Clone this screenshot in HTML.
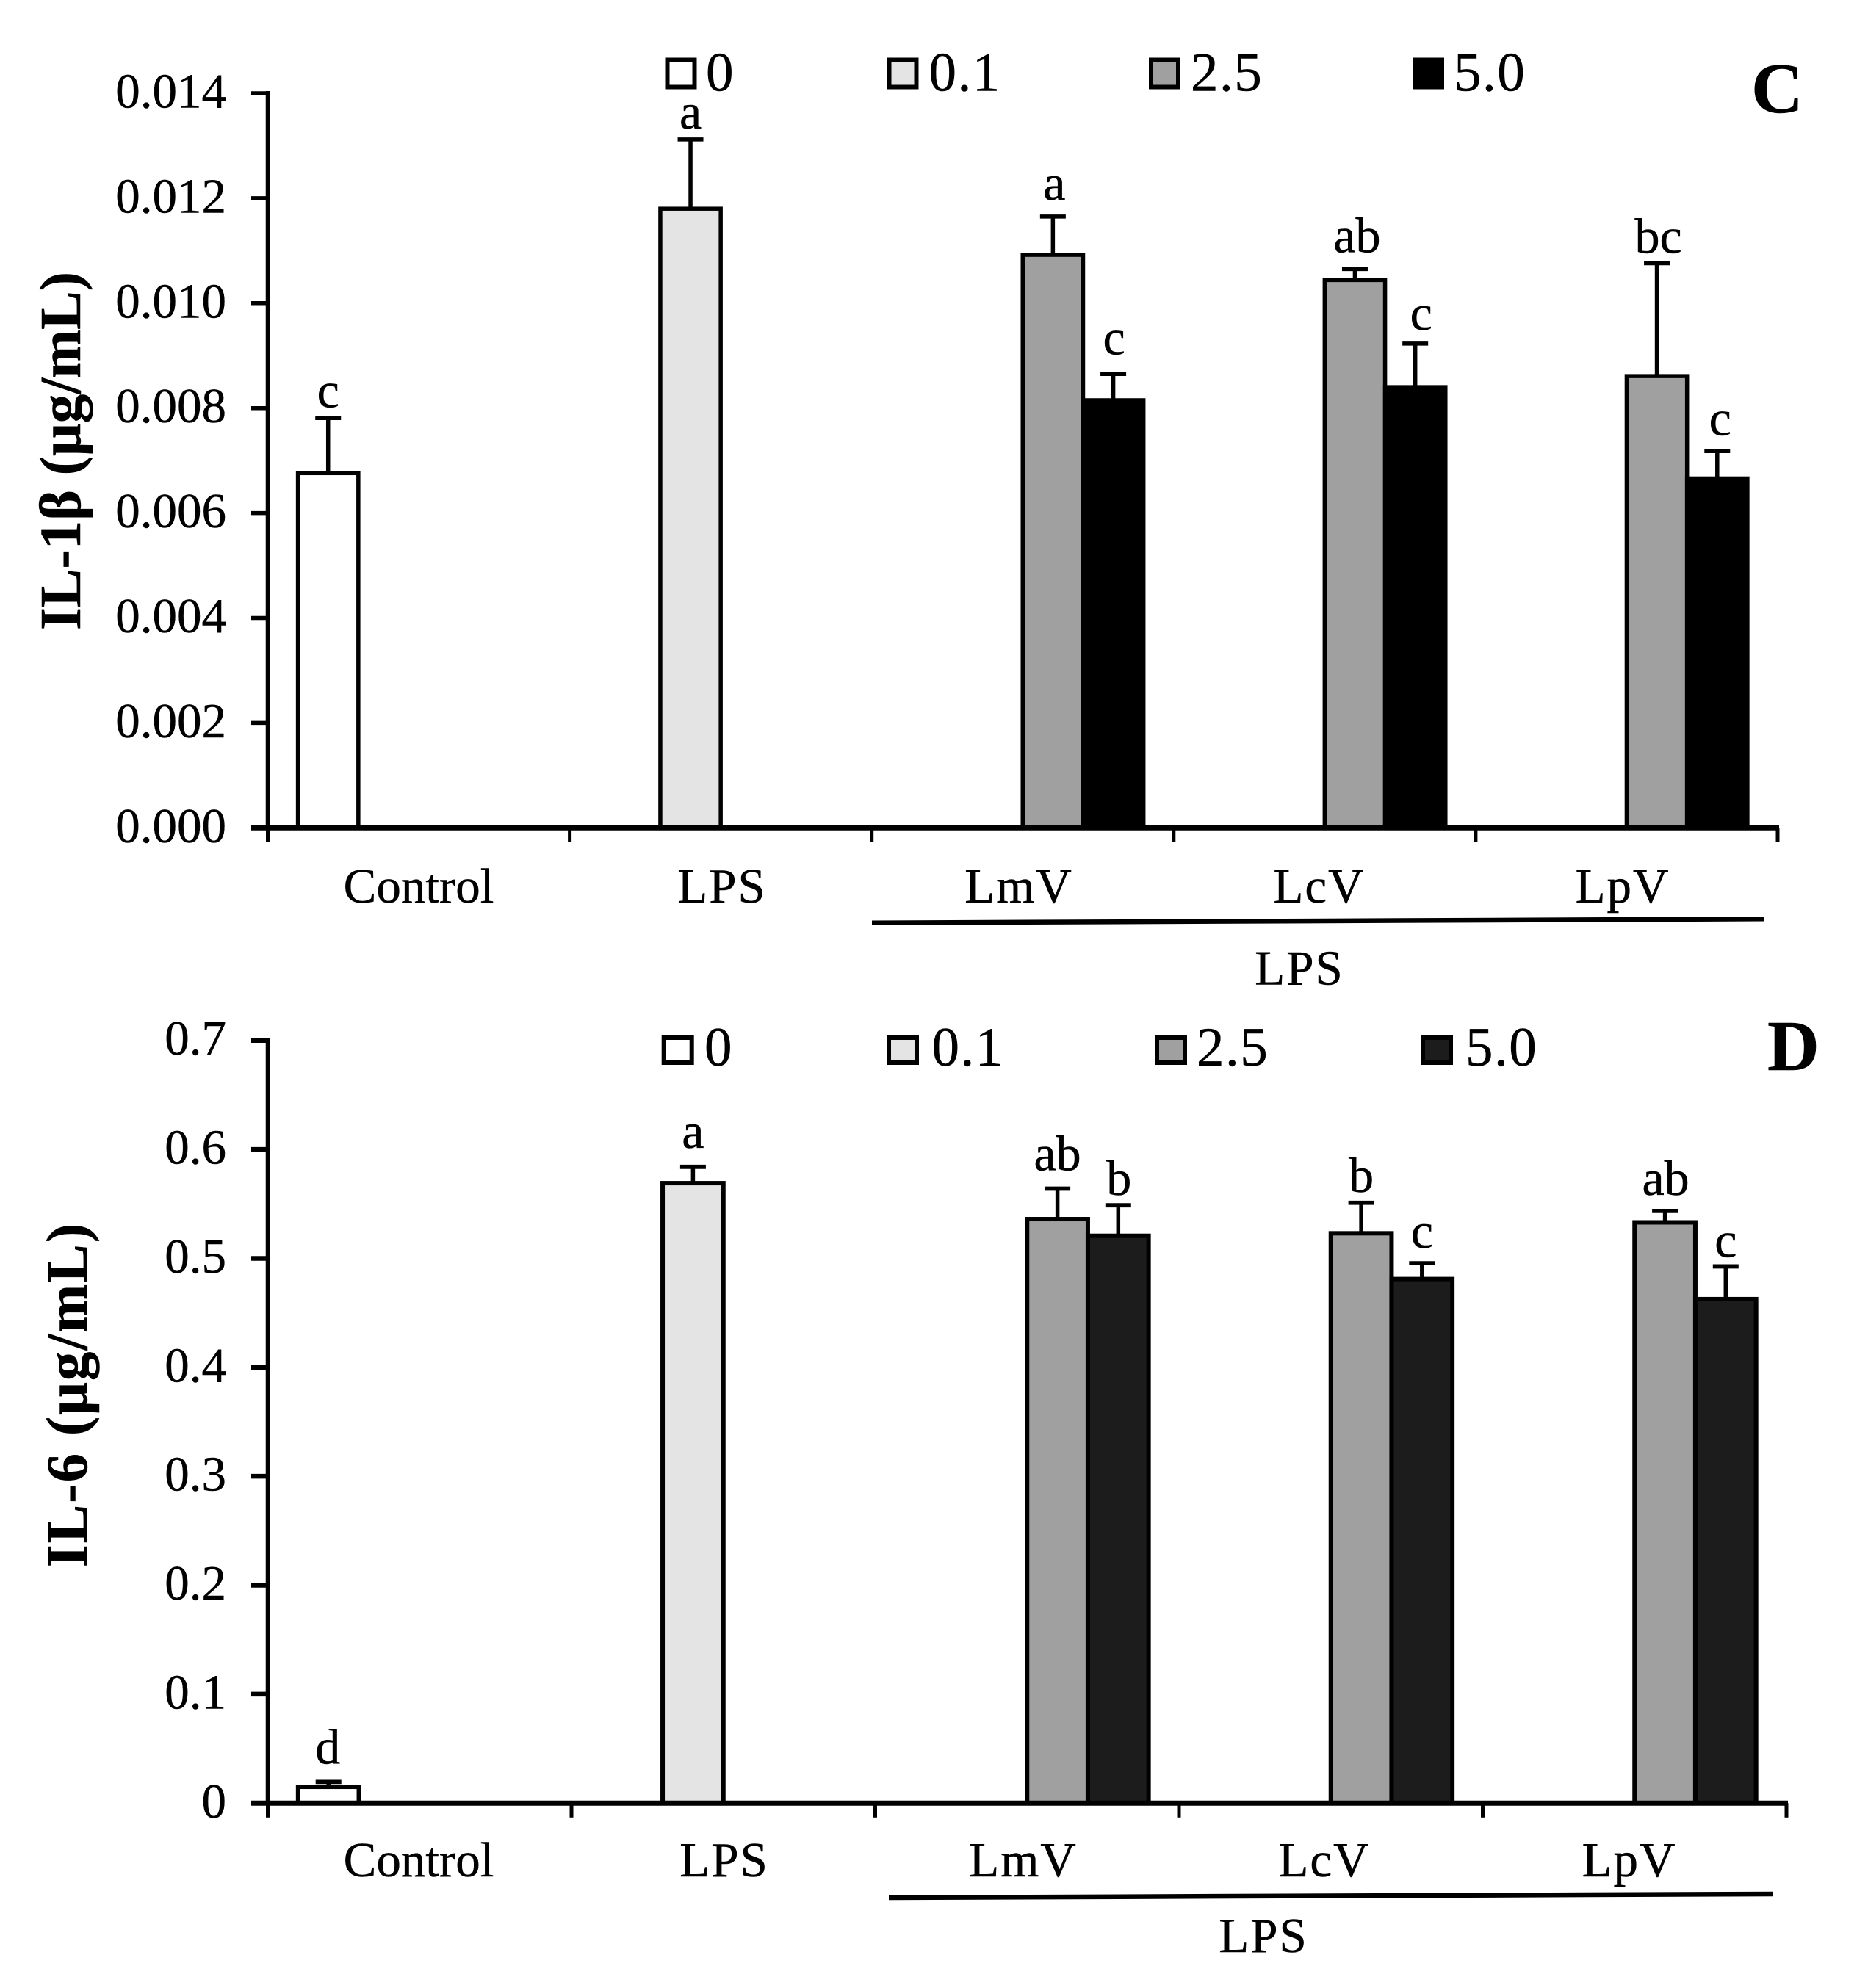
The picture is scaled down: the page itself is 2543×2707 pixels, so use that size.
<!DOCTYPE html>
<html lang="en">
<head>
<meta charset="utf-8">
<title>IL-1β and IL-6 bar charts</title>
<style>
html,body{margin:0;padding:0;background:#fff;}
svg{display:block;}
text{font-family:"Liberation Serif",serif;fill:#000;stroke:#000;stroke-width:0.5px;}
</style>
</head>
<body>
<svg id="figure" xmlns="http://www.w3.org/2000/svg" width="2543" height="2707" viewBox="0 0 2543 2707">
  <rect x="0" y="0" width="2543" height="2707" fill="#fff"/>
  <g id="panel-c"></g>
  <g id="panel-d"></g>
</svg>
<script>
// Shared categories and legend
const categories = ["Control", "LPS", "LmV", "LcV", "LpV"];
const seriesNames = ["0", "0.1", "2.5", "5.0"];

// Panel C: IL-1β values per dose series, aligned with categories
const il1bDose0 = [0.00676, null, null, null, null];
const il1bDose01 = [null, 0.0118, null, null, null];
const il1bDose25 = [null, null, 0.01092, 0.01044, 0.00861];
const il1bDose50 = [null, null, 0.00815, 0.0084, 0.00666];
const il1bErr0 = [0.00105, null, null, null, null];
const il1bErr01 = [null, 0.00132, null, null, null];
const il1bErr25 = [null, null, 0.00073, 0.00021, 0.00215];
const il1bErr50 = [null, null, 0.0005, 0.00083, 0.00052];
const il1bLetters0 = ["c", null, null, null, null];
const il1bLetters01 = [null, "a", null, null, null];
const il1bLetters25 = [null, null, "a", "ab", "bc"];
const il1bLetters50 = [null, null, "c", "c", "c"];
const il1bTicks = ["0.000", "0.002", "0.004", "0.006", "0.008", "0.010", "0.012", "0.014"];
const il1bTickValues = [0, 0.002, 0.004, 0.006, 0.008, 0.01, 0.012, 0.014];

// Panel D: IL-6 values per dose series, aligned with categories
const il6Dose0 = [0.015, null, null, null, null];
const il6Dose01 = [null, 0.569, null, null, null];
const il6Dose25 = [null, null, 0.536, 0.523, 0.533];
const il6Dose50 = [null, null, 0.5207, 0.481, 0.4626];
const il6Err0 = [0.0045, null, null, null, null];
const il6Err01 = [null, 0.015, null, null, null];
const il6Err25 = [null, null, 0.028, 0.028, 0.0105];
const il6Err50 = [null, null, 0.028, 0.0145, 0.03];
const il6Letters0 = ["d", null, null, null, null];
const il6Letters01 = [null, "a", null, null, null];
const il6Letters25 = [null, null, "ab", "b", "ab"];
const il6Letters50 = [null, null, "b", "c", "c"];
const il6Ticks = ["0", "0.1", "0.2", "0.3", "0.4", "0.5", "0.6", "0.7"];
const il6TickValues = [0, 0.1, 0.2, 0.3, 0.4, 0.5, 0.6, 0.7];

const NS = "http://www.w3.org/2000/svg";

function mk(tag, attrs, parent, txt) {
  const n = document.createElementNS(NS, tag);
  Object.keys(attrs).forEach(function (k) { n.setAttribute(k, attrs[k]); });
  if (txt !== undefined) n.textContent = txt;
  parent.appendChild(n);
  return n;
}

function drawPanel(p) {
  const g = document.getElementById(p.id);
  const catW = (p.x1 - p.x0) / categories.length;
  const slot = catW / 5;
  const yScale = function (v) { return p.base - (v / p.yMax) * (p.base - p.top); };
  const catX = function (i) { return p.x0 + i * catW; };
  const barX = function (c, s) { return catX(c) + (s + 1) * slot; };

  // Bars, whiskers and letters
  p.values.forEach(function (vals, s) {
    vals.forEach(function (v, c) {
      if (v === null) return;
      const cx = barX(c, s);
      const errTop = yScale(v + p.errors[s][c]);
      const yTop = yScale(v);

      const stem = mk("line", { x1: cx, x2: cx, y1: errTop, y2: yTop, stroke: "#000", "stroke-width": 5.5 }, g);
      
      

      const cap = mk("line", { x1: cx - 17.5, x2: cx + 17.5, y1: errTop, y2: errTop, stroke: "#000", "stroke-width": p.capH }, g);
      
      

      const bar = mk("rect", { x: cx - slot / 2, y: yTop, width: slot, height: p.base - yTop, fill: p.fills[s], stroke: "#000", "stroke-width": p.barStroke }, g);
      
      

      const lab = mk("text", { x: cx + p.labelDx[s][c], y: errTop - p.labelLift[s][c], "font-size": 68, "text-anchor": "middle" }, g, p.letters[s][c]);
      
      
    });
  });

  // Y axis
  const yAxis = mk("line", { x1: p.x0, x2: p.x0, y1: p.top - 3, y2: p.base, stroke: "#000", "stroke-width": 5.5 }, g);
  
  

  p.tickValues.forEach(function (tv, i) {
    const y = yScale(tv);
    const t = mk("line", { x1: 342, x2: p.x0, y1: y, y2: y, stroke: "#000", "stroke-width": p.tickH }, g);
    
    
    const l = mk("text", { x: 308, y: y + 19.5, "font-size": 67, "text-anchor": "end" }, g, p.tickLabels[i]);
    
    
  });

  // X axis
  const xAxis = mk("line", { x1: 342, x2: p.x1 + 2, y1: p.base, y2: p.base, stroke: "#000", "stroke-width": 7 }, g);
  
  

  for (let i = 0; i <= categories.length; i++) {
    const t = mk("line", { x1: catX(i), x2: catX(i), y1: p.base, y2: p.base + 19.5, stroke: "#000", "stroke-width": 5 }, g);
    
    
  }

  categories.forEach(function (name, i) {
    const l = mk("text", { x: p.catLabelX[i], y: p.catBaseline, "font-size": 67, "text-anchor": "middle", "letter-spacing": i === 0 ? 0 : 2 }, g, name);
    
    
  });

  // LPS grouping bracket
  const bracket = mk("line", { x1: p.bracket[0], y1: p.bracket[1], x2: p.bracket[2], y2: p.bracket[3], stroke: "#000", "stroke-width": 6.5 }, g);
  
  

  const groupLabel = mk("text", { x: p.groupLabel[0], y: p.groupLabel[1], "font-size": 67, "text-anchor": "middle", "letter-spacing": 2 }, g, "LPS");
  
  

  // Legend
  seriesNames.forEach(function (name, i) {
    const sw = mk("rect", { x: p.legendBox[i] + 3, y: p.legendY + 3, width: p.legendBoxW - 6, height: p.legendBoxH - 6, fill: p.fills[i], stroke: "#000", "stroke-width": 6 }, g);
    
    
    const l = mk("text", { x: p.legendText[i], y: p.legendBaseline, "font-size": 75, "letter-spacing": 1.5 }, g, name);
    
    
  });

  // Y axis title
  const title = mk("text", { transform: "translate(" + p.titleX + "," + p.titleY + ") rotate(-90)", "font-size": 79, "font-weight": "bold", "text-anchor": "middle", "letter-spacing": p.titleSpacing }, g, p.title);
  
  

  // Panel letter
  const letter = mk("text", { x: p.panelLetter[0], y: p.panelLetter[1], "font-size": 98, "font-weight": "bold" }, g, p.panelLetter[2]);
  
  
}

drawPanel({
  id: "panel-c", x0: 364.5, x1: 2420, top: 127, base: 1127.3, yMax: 0.014,
  values: [il1bDose0, il1bDose01, il1bDose25, il1bDose50],
  errors: [il1bErr0, il1bErr01, il1bErr25, il1bErr50],
  letters: [il1bLetters0, il1bLetters01, il1bLetters25, il1bLetters50],
  labelLift: [[15,0,0,0,0],[0,15,0,0,0],[0,0,23,23,14],[0,0,27,19,22]],
  labelDx: [[0,0,0,0,0],[0,0,0,0,0],[0,0,2,3,2],[0,0,1,8,4]],
  tickValues: il1bTickValues, tickLabels: il1bTicks,
  fills: ["#ffffff", "#e4e4e4", "#a0a0a0", "#000000"],
  barStroke: 5.5, capH: 5.5, tickH: 5.5,
  catLabelX: [570, 983, 1387, 1796, 2209], catBaseline: 1229,
  bracket: [1187, 1256.7, 2402, 1251.3], groupLabel: [1769, 1340.7],
  legendBox: [905.5, 1207.5, 1564, 1923], legendBoxW: 43, legendBoxH: 43, legendY: 78.5,
  legendText: [961, 1264.5, 1621, 1979], legendBaseline: 123.5,
  title: "IL-1β (μg/mL)", titleX: 109, titleY: 614, titleSpacing: 0,
  panelLetter: [2384, 153, "C"]
});

drawPanel({
  id: "panel-d", x0: 364.5, x1: 2432, top: 1416.7, base: 2455.3, yMax: 0.7,
  values: [il6Dose0, il6Dose01, il6Dose25, il6Dose50],
  errors: [il6Err0, il6Err01, il6Err25, il6Err50],
  letters: [il6Letters0, il6Letters01, il6Letters25, il6Letters50],
  labelLift: [[25,0,0,0,0],[0,26,0,0,0],[0,0,25,15,22],[0,0,14,21,13]],
  labelDx: [[-1,0,0,0,0],[0,0,0,0,0],[0,0,0,0,1],[0,0,1,0,0]],
  tickValues: il6TickValues, tickLabels: il6Ticks,
  fills: ["#ffffff", "#e4e4e4", "#a0a0a0", "#1c1c1c"],
  barStroke: 6, capH: 5.8, tickH: 6.5,
  catLabelX: [570, 986, 1393, 1803, 2218], catBaseline: 2555,
  bracket: [1210, 2584, 2414, 2579], groupLabel: [1720, 2658],
  legendBox: [900.7, 1207, 1572, 1934], legendBoxW: 44, legendBoxH: 40, legendY: 1410,
  legendText: [959, 1268.5, 1629, 1995], legendBaseline: 1451,
  title: "IL-6 (μg/mL)", titleX: 118, titleY: 1899, titleSpacing: 2,
  panelLetter: [2406, 1457, "D"]
});
</script>
</body>
</html>
